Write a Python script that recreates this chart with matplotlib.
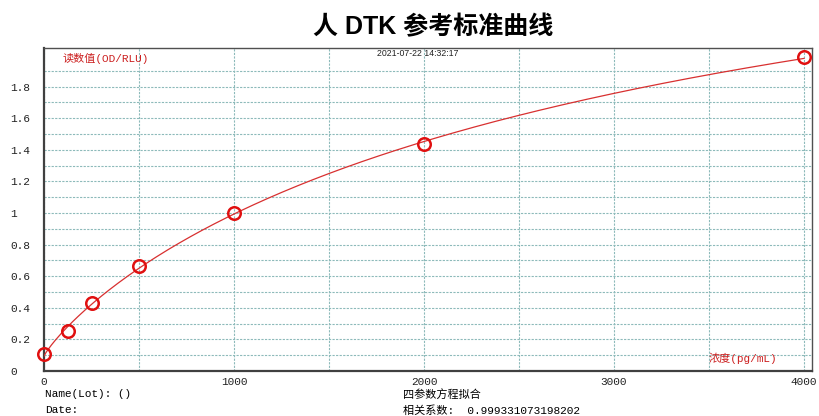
import numpy as np
import matplotlib
matplotlib.use("Agg")
import matplotlib.pyplot as plt

# standards
conc = [0, 125, 250, 500, 1000, 2000, 4000]
od = [0.105, 0.253, 0.43, 0.663, 1.0, 1.435, 1.985]

title = "人 DTK 参考标准曲线"
y_label = "读数值(OD/RLU)"
x_label = "浓度(pg/mL)"
stamp = "2021-07-22 14:32:17"
info_left = ["Name(Lot): ()", "Date:"]
info_right = ["四参数方程拟合", "相关系数:  0.999331073198202"]

yticks_lab = [0, 0.2, 0.4, 0.6, 0.8, 1, 1.2, 1.4, 1.6, 1.8]
xticks_lab = [0, 1000, 2000, 3000, 4000]

RED = "#e01010"
MONO = ["Liberation Mono", "Noto Sans CJK SC"]


def fit_4pl(x, y):
    # y = d + (a - d) / (1 + (x/c)^b); a, d solved linearly for each (b, c)
    best = None
    for b in np.arange(0.3, 2.0, 0.01):
        for c in np.logspace(2, 5, 200):
            f = 1.0 / (1.0 + (x / c) ** b)
            A = np.column_stack([f, 1 - f])
            coef, *_ = np.linalg.lstsq(A, y, rcond=None)
            err = ((A @ coef - y) ** 2).sum()
            if best is None or err < best[0]:
                best = (err, coef[0], b, c, coef[1])
    return best[1:]


x = np.array(conc, dtype=float)
y = np.array(od)
a, b, c, d = fit_4pl(x, y)
xs = np.linspace(0, 4000, 400)
ys = d + (a - d) / (1 + (xs / c) ** b)

fig = plt.figure(figsize=(8.19, 4.16), dpi=100)
ax = fig.add_axes([44 / 819, 45 / 416, 768 / 819, 323 / 416])

ax.plot(xs, ys, color="#d83030", lw=0.9, zorder=3)
ax.plot(conc, od, "o", ms=9, mfc="none", mec=RED, mew=1.8, zorder=4, clip_on=False)

ax.set_xlim(0, 4042)
ax.set_ylim(0, 2.044)

ax.set_xticks(np.arange(0, 4001, 500))
ax.set_xticklabels([str(v) if v in xticks_lab else "" for v in range(0, 4001, 500)])
ygrid = np.round(np.arange(0, 1.95, 0.1), 1)
ax.set_yticks(ygrid)
ax.set_yticklabels([("%g" % v) if any(abs(v - t) < 1e-6 for t in yticks_lab) else "" for v in ygrid])

ax.grid(True, color="#8dbaba", ls=(0, (2, 1.2)), lw=0.8)
ax.set_axisbelow(True)

ax.tick_params(axis="y", length=0, pad=24.5, labelsize=8, labelcolor="#222222")
ax.tick_params(axis="x", length=0, pad=4, labelsize=8, labelcolor="#222222")
for lab in ax.get_yticklabels():
    lab.set_horizontalalignment("left")
    lab.set_family(MONO)
for lab in ax.get_xticklabels():
    lab.set_family(MONO)

for s in ["left", "bottom"]:
    ax.spines[s].set_color("#404040")
    ax.spines[s].set_linewidth(1.6)
for s in ["top", "right"]:
    ax.spines[s].set_color("#505050")
    ax.spines[s].set_linewidth(1.0)

ax.text(63 / 819, 358 / 416, y_label, transform=fig.transFigure, color="#cc2020",
        fontsize=8, family=MONO, va="center")
ax.text(709 / 819, 58 / 416, x_label, transform=fig.transFigure, color="#cc2020",
        fontsize=8, family=MONO, va="center")
ax.text(377 / 819, 362 / 416, stamp, transform=fig.transFigure, color="#222222",
        fontsize=6.3, family="Liberation Sans", va="center")

fig.text(433 / 819, 389 / 416, title, ha="center", va="center", fontsize=18,
         fontweight="bold", family=["Liberation Sans", "Noto Sans CJK SC"])

for i, t in enumerate(info_left):
    fig.text(45 / 819, (22 - 16 * i) / 416, t, fontsize=8, family=MONO, va="center")
for i, t in enumerate(info_right):
    fig.text(403 / 819, (22 - 17 * i) / 416, t, fontsize=8, family=MONO, va="center")

fig.savefig("out.png", dpi=100)
